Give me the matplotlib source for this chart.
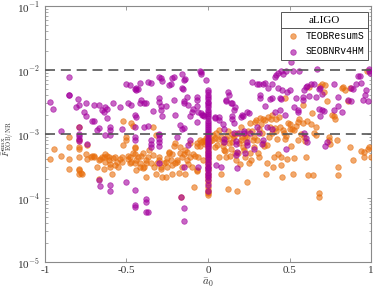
import numpy as np
import matplotlib
matplotlib.use("Agg")
import matplotlib.pyplot as plt
from matplotlib.lines import Line2D
from matplotlib.ticker import FixedLocator, LogLocator, NullFormatter

plt.rcParams['font.family'] = ['Liberation Serif', 'DejaVu Serif']
plt.rcParams['mathtext.fontset'] = 'cm'

# ---------------- data ----------------
seob_x = [
    -0.97, -0.95, -0.90, -0.85, -0.85, -0.85,
    -0.80, -0.79, -0.81, -0.79, -0.79, -0.79, -0.79, -0.79,
    -0.75, -0.76, -0.75, -0.74, -0.71, -0.70, -0.70, -0.68, -0.67, -0.67, -0.65, -0.64,
    -0.66, -0.67, -0.63, -0.62, -0.62, -0.60, -0.60, -0.60, -0.63, -0.60, -0.60, -0.58,
    -0.54, -0.53, -0.50, -0.48, -0.49, -0.47, -0.50,
    -0.45, -0.44, -0.44, -0.43, -0.45, -0.44, -0.45, -0.45, -0.45, -0.45, -0.45, -0.45,
    -0.42, -0.41, -0.42, -0.39, -0.38, -0.39, -0.37, -0.38, -0.38, -0.37, -0.38,
    -0.37, -0.35, -0.35, -0.35, -0.35, -0.34, -0.30, -0.30, -0.30, -0.29, -0.29, -0.29,
    -0.28, -0.30, -0.30, -0.30, -0.30, -0.30, -0.28, -0.30, -0.26, -0.24, -0.23, -0.22,
    -0.21, -0.21, -0.20, -0.19, -0.17, -0.16, -0.16, -0.155, -0.15, -0.16, -0.15, -0.15,
    -0.145, -0.15, -0.165, -0.15, -0.15, -0.14, -0.13, -0.12, -0.11, -0.10, -0.09, -0.11,
    -0.12, -0.07, -0.07, -0.07, -0.06, -0.05, -0.045, -0.04, -0.07, -0.06, -0.04, -0.035,
    -0.03, -0.025, -0.01,
    0.0, 0.0, 0.0, 0.0, 0.0, 0.0, 0.0, 0.0, 0.0, 0.0, 0.0, 0.0, 0.0, 0.0, 0.0,
    0.0, 0.0, 0.0, 0.0, 0.0, 0.0, 0.0, 0.0, 0.0, 0.0, 0.0, 0.0, 0.0, 0.0, 0.0,
    0.0, 0.0, 0.0, 0.0, 0.0, 0.0, 0.0, 0.0, 0.0, 0.0, 0.0, 0.0, 0.0, 0.0,
    0.04, 0.045, 0.05, 0.065, 0.07, 0.08, 0.09, 0.10, 0.10, 0.10, 0.11, 0.11, 0.12,
    0.13, 0.14, 0.15, 0.15, 0.15, 0.16, 0.165, 0.16, 0.16, 0.17, 0.17, 0.17, 0.18,
    0.18, 0.19, 0.20, 0.21, 0.215, 0.22, 0.22, 0.23, 0.24, 0.24, 0.24, 0.25, 0.26,
    0.27, 0.28, 0.30, 0.31, 0.30, 0.31, 0.32, 0.32, 0.34, 0.35, 0.33, 0.34, 0.35,
    0.36, 0.37, 0.38, 0.39, 0.39, 0.39, 0.41, 0.42, 0.43, 0.41, 0.43, 0.44, 0.445,
    0.44, 0.446, 0.46, 0.455, 0.47, 0.48, 0.48, 0.485, 0.50, 0.51, 0.52, 0.53, 0.54,
    0.55, 0.555, 0.56, 0.58, 0.585, 0.59, 0.60, 0.61, 0.59, 0.60, 0.605, 0.62, 0.63,
    0.65, 0.66, 0.67, 0.68, 0.685, 0.68, 0.69, 0.70, 0.70, 0.72, 0.73, 0.71, 0.77,
    0.775, 0.80, 0.80, 0.82, 0.86, 0.875, 0.88, 0.89, 0.91, 0.92, 0.935, 0.94, 0.95,
    0.97, 0.985, 0.99, 0.995, 0.98, 0.965,
]
seob_y = [
    3.2e-3, 2.5e-3, 1.1e-3, 7.9e-3, 4.0e-3, 4.1e-3,
    3.5e-3, 2.8e-3, 2.6e-3, 1.3e-3, 1.0e-3, 9.2e-4, 8.5e-4, 7.7e-4,
    3.0e-3, 2.2e-3, 1.9e-3, 7.1e-4, 1.6e-3, 1.6e-3, 2.8e-3, 1.15e-3, 1.25e-3, 2.8e-3, 2.4e-3, 2.2e-3,
    1.55e-4, 1.9e-4, 2.6e-3, 2.5e-3, 1.8e-3, 1.3e-3, 1.15e-3, 9.7e-4, 9.6e-4, 1.6e-4, 1.3e-4, 3.0e-3,
    2.6e-3, 1.2e-3, 6.0e-3, 5.9e-3, 3.1e-3, 2.8e-3, 1.8e-4,
    5.0e-3, 5.3e-3, 4.9e-3, 5.1e-3, 2.0e-3, 1.85e-3, 9.1e-4, 8.1e-4, 1.3e-3, 1.35e-4, 7.9e-5, 7.2e-5,
    3.1e-3, 3.4e-3, 6.3e-3, 3.1e-3, 3.1e-3, 1.3e-3, 1.32e-3, 9.5e-5, 8.7e-5, 6.0e-5, 6.1e-5,
    6.6e-3, 6.2e-3, 8.1e-4, 7.1e-4, 6.3e-4, 2.3e-3, 7.9e-3, 3.6e-3, 3.2e-3, 2.7e-3, 2.4e-3, 7.4e-3,
    6.8e-3, 1.0e-3, 9.5e-4, 8.5e-4, 7.5e-4, 6.6e-4, 1.9e-3, 3.5e-4, 2.7e-3, 5.9e-3, 6.1e-3, 7.4e-3,
    7.9e-3, 3.4e-3, 1.95e-3, 9.1e-4, 1.4e-3, 8.7e-3, 5.2e-3, 5.0e-3, 7.0e-3, 1.2e-3, 1.25e-3, 3.3e-3,
    3.0e-3, 3.1e-4, 1.02e-4, 7.1e-5, 4.4e-5, 7.2e-3, 3.8e-3, 2.8e-3, 1.9e-3, 2.2e-3, 2.5e-3, 8.0e-4,
    6.8e-4, 3.8e-3, 3.4e-3, 2.7e-3, 2.2e-3, 9.6e-3, 9.2e-3, 8.7e-3, 1.55e-3, 3.1e-4, 2.1e-3, 1.95e-3,
    2.0e-3, 1.9e-3, 7.0e-3,
    4.9e-3, 4.5e-3, 4.1e-3, 3.8e-3, 3.5e-3, 3.2e-3, 3.0e-3, 2.8e-3, 2.6e-3, 2.4e-3, 2.2e-3, 2.05e-3, 1.9e-3, 1.75e-3, 1.6e-3,
    1.5e-3, 1.4e-3, 1.3e-3, 1.2e-3, 1.1e-3, 1.02e-3, 9.5e-4, 8.8e-4, 8.1e-4, 7.5e-4, 7.0e-4, 6.5e-4, 6.0e-4, 5.5e-4, 5.1e-4,
    4.7e-4, 4.3e-4, 4.0e-4, 3.7e-4, 3.4e-4, 3.1e-4, 2.9e-4, 2.7e-4, 2.5e-4, 2.3e-4, 2.1e-4, 1.9e-4, 1.6e-4, 1.3e-4,
    1.75e-3, 1.85e-3, 3.3e-4, 1.85e-3, 1.65e-3, 3.1e-4, 1.45e-3, 1.2e-3, 7.5e-4, 8.5e-4, 3.3e-3, 3.4e-3, 4.6e-3,
    4.1e-3, 3.1e-3, 3.0e-3, 1.9e-3, 1.7e-3, 2.4e-3, 2.6e-3, 1.5e-3, 1.05e-3, 7.7e-4, 6.9e-4, 4.7e-4, 5.3e-4,
    2.9e-4, 1.05e-3, 1.85e-3, 1.95e-3, 1.9e-3, 1.12e-3, 1.05e-3, 5.0e-4, 7.4e-4, 6.8e-4, 2.2e-3, 2.15e-3, 1.05e-3,
    6.4e-3, 5.8e-4, 6.0e-3, 6.1e-3, 1.3e-3, 1.05e-3, 4.1e-3, 3.6e-3, 6.1e-3, 6.2e-3, 7.0e-4, 8.0e-4, 2.7e-3,
    1.3e-3, 5.2e-3, 3.5e-3, 6.1e-3, 3.6e-3, 1.2e-3, 7.9e-3, 8.3e-3, 8.9e-3, 2.2e-3, 5.2e-3, 3.6e-3, 3.5e-3,
    2.4e-3, 9.8e-3, 8.6e-3, 4.8e-3, 2.0e-3, 5.8e-4, 9.6e-3, 4.6e-3, 4.8e-3, 1.33e-2, 9.5e-3, 2.6e-3, 3.7e-3,
    2.4e-3, 2.2e-3, 9.8e-3, 3.4e-3, 3.8e-3, 4.8e-3, 5.5e-3, 5.7e-3, 1.05e-3, 8.6e-4, 7.6e-4, 3.9e-3, 6.1e-3,
    6.0e-3, 3.8e-3, 1.05e-2, 2.5e-3, 1.9e-3, 5.0e-3, 5.3e-3, 4.2e-3, 2.4e-3, 6.5e-4, 7.6e-4, 2.3e-3, 6.1e-3,
    2.4e-3, 2.7e-3, 3.8e-3, 2.2e-3, 3.4e-3, 3.3e-3, 5.3e-3, 5.1e-3, 6.1e-3, 8.0e-3, 8.1e-3, 6.2e-3, 3.4e-3,
    4.8e-3, 9.7e-3, 1.02e-2, 8.9e-3, 3.3e-3, 4.0e-3,
]

teob_x = [
    -0.97, -0.945, -0.90, -0.85, -0.85, -0.85, -0.85, -0.79, -0.79, -0.79, -0.79, -0.79,
    -0.79, -0.79, -0.79, -0.78, -0.77, -0.75, -0.74, -0.74, -0.72, -0.71, -0.70, -0.70,
    -0.68, -0.67, -0.67, -0.66, -0.65, -0.64, -0.64, -0.63, -0.63, -0.62, -0.61, -0.61,
    -0.60, -0.60, -0.59, -0.58, -0.57, -0.57, -0.56, -0.55, -0.54, -0.53, -0.53, -0.52,
    -0.52, -0.50, -0.50, -0.49, -0.49, -0.48, -0.48, -0.47, -0.47, -0.46, -0.46, -0.45,
    -0.45, -0.45, -0.45, -0.44, -0.44, -0.43, -0.42, -0.42, -0.41, -0.40, -0.40, -0.39,
    -0.38, -0.38, -0.38, -0.37, -0.36, -0.35, -0.34, -0.34, -0.33, -0.32, -0.32, -0.31,
    -0.30, -0.30, -0.29, -0.29, -0.28, -0.27, -0.26, -0.26, -0.25, -0.25, -0.24, -0.24,
    -0.23, -0.22, -0.22, -0.22, -0.21, -0.20, -0.20, -0.19, -0.19, -0.18, -0.17, -0.17,
    -0.16, -0.16, -0.15, -0.14, -0.14, -0.13, -0.13, -0.12, -0.11, -0.11, -0.10, -0.09,
    -0.08, -0.085, -0.07, -0.07, -0.07, -0.065, -0.06, -0.05, -0.05, -0.04, -0.03, -0.03,
    -0.02, -0.02, -0.015, -0.01, -0.165,
    0.0, 0.0, 0.0, 0.0, 0.0, 0.0, 0.0, 0.0, 0.0, 0.0, 0.0, 0.0,
    0.0, 0.0, 0.0, 0.0, 0.0, 0.0, 0.0, 0.0, 0.0, 0.0, 0.0,
    0.01, 0.025, 0.03, 0.04, 0.045, 0.05, 0.055, 0.06, 0.07, 0.07, 0.08, 0.08,
    0.09, 0.095, 0.10, 0.105, 0.11, 0.11, 0.115, 0.12, 0.125, 0.13, 0.135, 0.14,
    0.145, 0.15, 0.155, 0.16, 0.165, 0.17, 0.175, 0.18, 0.185, 0.19, 0.195, 0.20,
    0.205, 0.21, 0.215, 0.22, 0.225, 0.23, 0.235, 0.24, 0.245, 0.25, 0.255, 0.237,
    0.26, 0.265, 0.27, 0.275, 0.28, 0.285, 0.29, 0.295, 0.30, 0.305, 0.31, 0.315,
    0.32, 0.325, 0.33, 0.335, 0.34, 0.345, 0.35, 0.355, 0.36, 0.365, 0.37, 0.375,
    0.38, 0.385, 0.39, 0.395, 0.40, 0.405, 0.41, 0.415, 0.42, 0.425, 0.43, 0.435,
    0.44, 0.445, 0.45, 0.455, 0.46, 0.465, 0.47, 0.475, 0.48, 0.485, 0.49, 0.50,
    0.505, 0.51, 0.515, 0.52, 0.525, 0.53, 0.54, 0.55, 0.555, 0.56, 0.57, 0.58,
    0.585, 0.59, 0.595, 0.60, 0.61, 0.615, 0.62, 0.63, 0.64, 0.645, 0.65, 0.66,
    0.665, 0.68, 0.68, 0.69, 0.70, 0.71, 0.72, 0.73, 0.74, 0.745, 0.75, 0.76,
    0.77, 0.78, 0.79, 0.80, 0.80, 0.82, 0.83, 0.84, 0.86, 0.87, 0.87, 0.89,
    0.94, 0.96, 0.98, 0.99, 1.0, 0.975, 0.96,
]
teob_y = [
    4.1e-4, 5.9e-4, 4.5e-4, 8.9e-4, 6.2e-4, 4.1e-4, 2.8e-4, 1.3e-3, 8.1e-4, 6.3e-4, 5.8e-4, 4.4e-4,
    2.8e-4, 2.7e-4, 2.4e-4, 2.5e-4, 2.4e-4, 4.9e-4, 6.8e-4, 4.1e-4, 4.4e-4, 4.5e-4, 4.5e-4, 4.3e-4,
    3.0e-4, 2.0e-4, 3.9e-4, 4.0e-4, 4.4e-4, 4.3e-4, 2.8e-4, 3.6e-4, 4.9e-4, 4.6e-4, 4.4e-4, 3.9e-4,
    3.4e-4, 3.1e-4, 2.4e-4, 4.2e-4, 4.4e-4, 3.3e-4, 3.6e-4, 3.0e-4, 4.1e-4, 3.7e-4, 4.3e-4, 6.8e-4,
    1.6e-3, 9.1e-4, 8.1e-4, 4.6e-4, 4.1e-4, 3.5e-4, 4.4e-4, 3.7e-4, 1.5e-3, 1.35e-3, 5.0e-4, 4.8e-4,
    6.3e-4, 6.0e-4, 3.5e-4, 2.7e-4, 3.9e-4, 4.4e-4, 3.1e-4, 3.5e-4, 4.6e-4, 5.0e-4, 2.9e-4, 3.1e-4,
    3.9e-4, 3.5e-4, 2.1e-4, 4.4e-4, 5.6e-4, 3.5e-4, 4.7e-4, 1.3e-3, 3.1e-4, 2.4e-4, 9.5e-4, 3.5e-4,
    4.4e-4, 3.9e-4, 3.1e-4, 2.8e-4, 2.1e-4, 3.5e-4, 3.6e-4, 2.1e-4, 4.2e-4, 3.1e-4, 5.3e-4, 5.0e-4,
    3.9e-4, 3.3e-4, 2.4e-4, 4.9e-4, 6.6e-4, 7.2e-4, 3.5e-4, 3.9e-4, 3.6e-4, 2.5e-4, 5.0e-4, 6.3e-4,
    3.1e-4, 4.4e-4, 4.8e-4, 2.4e-4, 5.6e-4, 5.3e-4, 3.9e-4, 3.4e-4, 7.2e-4, 4.4e-4, 3.1e-4, 4.8e-4,
    4.5e-4, 1.5e-4, 2.7e-4, 2.6e-4, 6.6e-4, 7.3e-4, 4.4e-4, 6.6e-4, 8.1e-4, 7.6e-4, 7.7e-4, 3.9e-4,
    7.0e-4, 8.1e-4, 7.5e-4, 8.6e-4, 1.02e-4,
    1.0e-3, 9.2e-4, 8.4e-4, 7.7e-4, 7.0e-4, 6.4e-4, 5.8e-4, 5.2e-4, 4.7e-4, 4.2e-4, 3.8e-4, 3.4e-4,
    3.0e-4, 2.7e-4, 2.4e-4, 2.1e-4, 1.9e-4, 1.7e-4, 1.5e-4, 1.35e-4, 1.25e-4, 1.18e-4, 1.12e-4,
    7.7e-4, 8.0e-4, 9.8e-4, 8.6e-4, 6.3e-4, 1.05e-3, 6.8e-4, 8.3e-4, 1.15e-3, 4.4e-4, 2.4e-4, 9.0e-4,
    7.5e-4, 6.5e-4, 5.6e-4, 5.4e-4, 4.4e-4, 8.3e-4, 9.4e-4, 1.1e-3, 1.4e-4, 7.3e-4, 4.5e-4, 5.9e-4,
    1.0e-3, 7.6e-4, 8.8e-4, 9.3e-4, 5.0e-4, 3.9e-4, 1.3e-4, 1.02e-3, 5.0e-4, 7.2e-4, 3.4e-4, 8.2e-4,
    1.3e-3, 9.1e-4, 6.3e-4, 5.6e-4, 4.4e-4, 9.3e-4, 7.4e-4, 8.9e-4, 1.1e-3, 3.5e-4, 5.1e-4, 1.8e-4,
    1.5e-3, 3.9e-4, 1.1e-3, 8.1e-4, 6.3e-4, 9.1e-4, 1.55e-3, 1.65e-3, 8.0e-4, 5.0e-4, 4.4e-4, 1.2e-3,
    1.75e-3, 1.45e-3, 1.05e-3, 1.7e-3, 7.2e-4, 6.5e-4, 1.65e-3, 2.4e-4, 6.8e-4, 3.5e-4, 1.85e-3, 9.1e-4,
    1.3e-3, 1.7e-3, 2.0e-3, 1.02e-3, 3.1e-4, 4.4e-4, 1.25e-3, 1.12e-3, 1.7e-3, 8.5e-4, 4.8e-4, 1.85e-3,
    1.3e-3, 3.3e-4, 4.4e-4, 2.1e-4, 1.15e-3, 1.02e-3, 3.7e-3, 8.4e-4, 9.2e-4, 4.0e-4, 1.5e-3, 1.2e-3,
    1.45e-3, 6.5e-4, 1.2e-3, 2.4e-4, 1.15e-3, 4.2e-4, 1.35e-3, 1.55e-3, 8.1e-4, 1.7e-3, 1.0e-3, 1.5e-3,
    2.8e-3, 9.0e-4, 7.8e-4, 4.4e-4, 1.6e-3, 2.3e-4, 5.5e-3, 1.45e-3, 2.1e-3, 2.3e-4, 1.05e-3, 9.8e-4,
    1.28e-3, 1.2e-4, 1.05e-4, 5.6e-3, 6.0e-3, 4.5e-3, 5.8e-3, 3.3e-3, 9.0e-4, 8.1e-4, 7.0e-4, 2.0e-3,
    1.9e-3, 1.7e-3, 8.1e-4, 3.0e-4, 2.3e-4, 5.3e-3, 5.5e-3, 4.9e-3, 3.3e-3, 5.2e-3, 6.2e-4, 3.9e-4,
    5.4e-4, 5.3e-4, 5.8e-4, 6.2e-4, 4.4e-4, 9.8e-3, 4.4e-4,
]

thresholds = [1e-2, 1e-3]
x_ticks = [-1, -0.5, 0, 0.5, 1]
x_tick_labels = ['-1', '-0.5', '0', '0.5', '1']
y_ticks = [1e-5, 1e-4, 1e-3, 1e-2, 1e-1]
y_tick_labels = ['10$^{-5}$', '10$^{-4}$', '10$^{-3}$', '10$^{-2}$', '10$^{-1}$']
series_names = ['TEOBResumS', 'SEOBNRv4HM']
legend_title = 'aLIGO'

# ---------------- figure ----------------
fig = plt.figure(figsize=(3.74, 2.93), dpi=100)
ax = fig.add_axes([0.1203, 0.1058, 0.8717, 0.8737])

orange = '#E86E0C'
purple = '#A3009E'
ax.scatter(teob_x, teob_y, s=16, facecolor=orange, edgecolor=orange,
           alpha=0.6, linewidths=0.6, label=series_names[0], zorder=3)
ax.scatter(seob_x, seob_y, s=16, facecolor=purple, edgecolor=purple,
           alpha=0.6, linewidths=0.6, label=series_names[1], zorder=4)

for t in thresholds:
    ax.axhline(t, color='#555555', lw=1.2, ls=(0, (6, 3.5)), zorder=5)

ax.set_yscale('log')
ax.set_xlim(-1, 1)
ax.set_ylim(1e-5, 1e-1)

axcol = '#8a8a8a'
for sp in ax.spines.values():
    sp.set_color(axcol)
    sp.set_linewidth(0.8)

ax.xaxis.set_major_locator(FixedLocator(x_ticks))
ax.set_xticklabels(x_tick_labels)
ax.yaxis.set_major_locator(FixedLocator(y_ticks))
ax.set_yticklabels(y_tick_labels)
ax.yaxis.set_minor_locator(LogLocator(base=10, subs=np.arange(2, 10)))
ax.yaxis.set_minor_formatter(NullFormatter())
ax.tick_params(which='both', direction='in', top=True, right=True,
               color=axcol, labelcolor='#333333', labelsize=8)
ax.tick_params(which='major', length=3, width=0.6)
ax.tick_params(which='minor', length=1.8, width=0.5)
ax.tick_params(axis='x', pad=3)
ax.tick_params(axis='y', pad=3.5, labelsize=8)

ax.set_xlabel(r'$\bar{a}_0$', fontsize=8, color='#333333', labelpad=1)
ylab = ax.set_ylabel(r'$\bar{F}^{\rm max}_{\rm EOB/NR}$', fontsize=6.8, color='#333333')
ax.yaxis.set_label_coords(-0.09, 0.48)

leg = ax.legend(title=legend_title, loc='upper right', bbox_to_anchor=(0.997, 0.985),
                fancybox=False, framealpha=1, edgecolor='#555555',
                prop={'family': 'Liberation Mono', 'size': 7}, title_fontsize=8,
                handletextpad=0.5, borderpad=0.4, handlelength=1.6,
                labelspacing=0.6, markerscale=1.0, borderaxespad=0.2)
leg.get_frame().set_linewidth(0.7)
leg.set_zorder(10)

fig.canvas.draw()
# place the y label between the figure edge and the tick labels
lb = ylab.get_window_extent()
tick_left = min(t.get_window_extent().x0 for t in ax.get_yticklabels())
ax_box = ax.get_window_extent()
right_edge = min(tick_left - 1.5, lb.width + 0.5 + max(0.0, tick_left - 1.5 - lb.width - 0.5) / 2)
right_edge = max(right_edge, lb.width + 0.5)
ax.yaxis.set_label_coords((right_edge - ax_box.x0) / ax_box.width, 0.48)
fig.canvas.draw()

fb = leg.get_frame().get_window_extent()
tb = leg.get_title().get_window_extent()
inv = fig.transFigure.inverted()
ysep = tb.y0 - 3.0
(x0, y0), (x1, y1) = inv.transform([(fb.x0, ysep), (fb.x1, ysep)])
fig.add_artist(Line2D([x0, x1], [y0, y1], transform=fig.transFigure,
                      color='#555555', lw=0.7, zorder=20))

fig.savefig('out.png', dpi=100)
